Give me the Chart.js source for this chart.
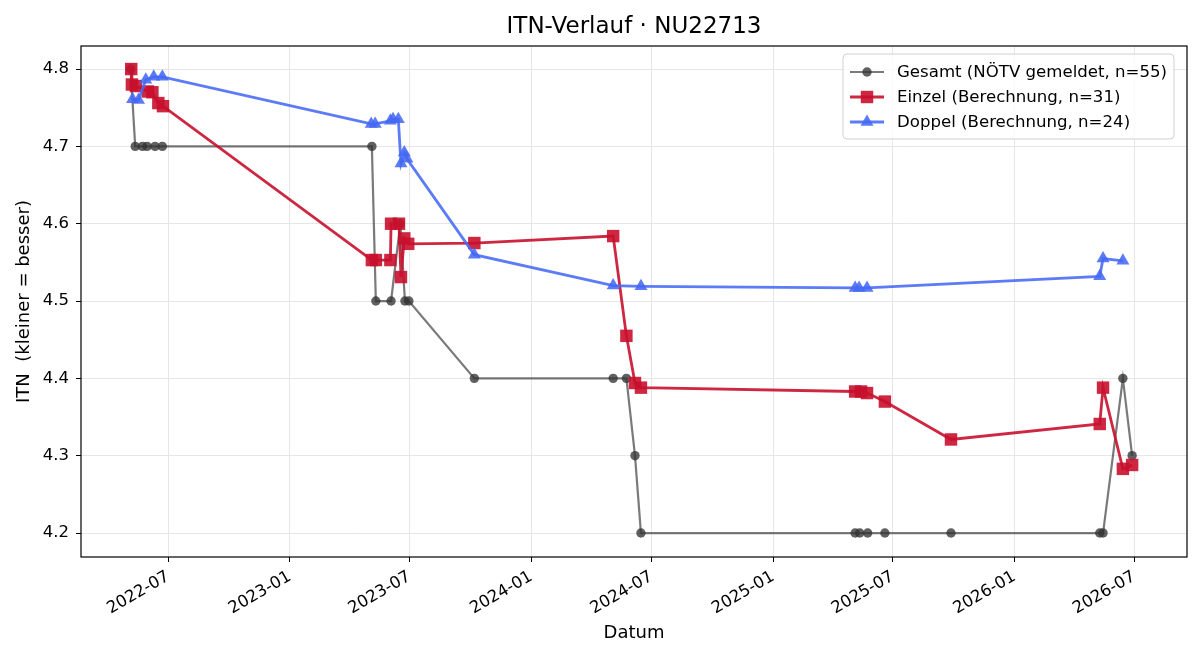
<!DOCTYPE html>
<html>
<head>
<meta charset="utf-8">
<script src="https://cdn.jsdelivr.net/npm/chart.js@4.4.1/dist/chart.umd.min.js"></script>
<style>
  html, body { margin: 0; padding: 0; background: #fff; }
</style>
</head>
<body>
<canvas id="chart" width="1200" height="660"></canvas>
<script>
// values
const gesamtDates = ['2022-05-05', '2022-05-12', '2022-05-23', '2022-05-30', '2022-06-11', '2022-06-22',
    '2023-05-05', '2023-05-11', '2023-06-03', '2023-06-17', '2023-06-24', '2023-06-30', '2023-10-07',
    '2024-05-04', '2024-05-24', '2024-06-06', '2024-06-15', '2025-05-05', '2025-05-12', '2025-05-24',
    '2025-06-19', '2025-09-27', '2026-05-10', '2026-05-15', '2026-06-14', '2026-06-28'];
const gesamtItn = [4.8, 4.7, 4.7, 4.7, 4.7, 4.7,
    4.7, 4.5, 4.5, 4.6, 4.5, 4.5, 4.4,
    4.4, 4.4, 4.3, 4.2, 4.2, 4.2, 4.2,
    4.2, 4.2, 4.2, 4.2, 4.4, 4.3];

const einzelDates = ['2022-05-06', '2022-05-07', '2022-05-13', '2022-05-31', '2022-06-07', '2022-06-16', '2022-06-23',
    '2023-05-05', '2023-05-11', '2023-06-02', '2023-06-03', '2023-06-15', '2023-06-18', '2023-06-23', '2023-06-29',
    '2023-10-07', '2024-05-04', '2024-05-24', '2024-06-06', '2024-06-15', '2025-05-05', '2025-05-14',
    '2025-05-23', '2025-06-19', '2025-09-27', '2026-05-10', '2026-05-15', '2026-06-14', '2026-06-28'];
const einzelItn = [4.800, 4.780, 4.778, 4.771, 4.770, 4.756, 4.752,
    4.553, 4.553, 4.553, 4.600, 4.600, 4.531, 4.581, 4.574,
    4.575, 4.584, 4.455, 4.394, 4.388, 4.383, 4.383,
    4.381, 4.370, 4.321, 4.341, 4.388, 4.283, 4.288];

const doppelDates = ['2022-05-08', '2022-05-17', '2022-05-28', '2022-06-09', '2022-06-22',
    '2023-05-04', '2023-05-10', '2023-06-02', '2023-06-06', '2023-06-14', '2023-06-18', '2023-06-23', '2023-06-27',
    '2023-10-07', '2024-05-04', '2024-06-15', '2025-05-05', '2025-05-11', '2025-05-23',
    '2026-05-10', '2026-05-15', '2026-06-14'];
const doppelItn = [4.761, 4.760, 4.786, 4.790, 4.790,
    4.729, 4.729, 4.733, 4.735, 4.735, 4.678, 4.692, 4.684,
    4.560, 4.520, 4.519, 4.517, 4.517, 4.517,
    4.532, 4.555, 4.552];

const xTickLabels = ['2022-07', '2023-01', '2023-07', '2024-01', '2024-07', '2025-01', '2025-07', '2026-01', '2026-07'];
const yTickValues = [4.2, 4.3, 4.4, 4.5, 4.6, 4.7, 4.8];

const seriesLabels = ['Gesamt (NÖTV gemeldet, n=55)', 'Einzel (Berechnung, n=31)', 'Doppel (Berechnung, n=24)'];

const toMs = s => Date.parse(s + 'T00:00:00Z');
const toPoints = (dates, vals) => dates.map((d, i) => ({ x: toMs(d), y: vals[i] }));

const FONT = "'DejaVu Sans', sans-serif";
Chart.defaults.font.family = FONT;
Chart.defaults.color = '#000';

// Colors
const grayLine = 'rgba(51, 51, 51, 0.65)';
const grayPoint = 'rgba(51, 51, 51, 0.78)';
const redLine = 'rgba(200, 16, 46, 0.9)';
const blueLine = 'rgba(70, 105, 245, 0.88)';

// small marker painter for the legend
function paintMarker(ctx, style, x, y, r, color) {
    ctx.fillStyle = color;
    ctx.beginPath();
    if (style === 'circle') {
        ctx.arc(x, y, r, 0, Math.PI * 2);
    } else if (style === 'rect') {
        const s = r * Math.SQRT1_2;
        ctx.rect(x - s, y - s, 2 * s, 2 * s);
    } else if (style === 'triangle') {
        ctx.moveTo(x, y - r);
        ctx.lineTo(x + r * Math.sin(Math.PI / 3), y + r / 2);
        ctx.lineTo(x - r * Math.sin(Math.PI / 3), y + r / 2);
        ctx.closePath();
    }
    ctx.fill();
}

// title centred over the axes like matplotlib, box around plot, legend in upper right
const framePlugin = {
    id: 'frame',
    afterLayout(chart) {
        const a = chart.chartArea;
        if (chart.titleBlock) {
            chart.titleBlock.left = a.left;
            chart.titleBlock.right = a.right;
            chart.titleBlock.width = a.right - a.left;
        }
    },
    afterDraw(chart) {
        const ctx = chart.ctx;
        const a = chart.chartArea;
        ctx.save();
        ctx.strokeStyle = '#000';
        ctx.lineWidth = 1.2;
        ctx.strokeRect(a.left, a.top, a.right - a.left, a.bottom - a.top);

        // legend
        const bx = 843, by = 54, bw = 331, bh = 85, rad = 4;
        ctx.beginPath();
        ctx.moveTo(bx + rad, by);
        ctx.arcTo(bx + bw, by, bx + bw, by + bh, rad);
        ctx.arcTo(bx + bw, by + bh, bx, by + bh, rad);
        ctx.arcTo(bx, by + bh, bx, by, rad);
        ctx.arcTo(bx, by, bx + bw, by, rad);
        ctx.closePath();
        ctx.fillStyle = 'rgba(255,255,255,0.8)';
        ctx.fill();
        ctx.strokeStyle = '#d0d0d0';
        ctx.lineWidth = 1;
        ctx.stroke();

        const rows = [72, 97, 122];
        chart.data.datasets.forEach((ds, i) => {
            const y = rows[i];
            ctx.strokeStyle = ds.borderColor;
            ctx.lineWidth = ds.borderWidth;
            ctx.beginPath();
            ctx.moveTo(850, y);
            ctx.lineTo(884, y);
            ctx.stroke();
            paintMarker(ctx, ds.pointStyle, 867, y, ds.pointRadius, ds.pointBackgroundColor);
            ctx.fillStyle = '#000';
            ctx.font = '16.6px ' + FONT;
            ctx.textBaseline = 'middle';
            ctx.textAlign = 'left';
            ctx.fillText(ds.label, 897, y + 1);
        });
        ctx.restore();
    }
};

new Chart(document.getElementById('chart'), {
    type: 'line',
    data: {
        datasets: [{
            label: seriesLabels[0],
            data: toPoints(gesamtDates, gesamtItn),
            borderColor: grayLine,
            borderWidth: 2.2,
            pointStyle: 'circle',
            pointRadius: 4.7,
            pointBackgroundColor: grayPoint,
            pointBorderColor: grayPoint,
            pointBorderWidth: 0,
            order: 3
        }, {
            label: seriesLabels[1],
            data: toPoints(einzelDates, einzelItn),
            borderColor: redLine,
            borderWidth: 2.8,
            pointStyle: 'rect',
            pointRadius: 8.8,
            pointBackgroundColor: redLine,
            pointBorderColor: redLine,
            pointBorderWidth: 0,
            order: 2
        }, {
            label: seriesLabels[2],
            data: toPoints(doppelDates, doppelItn),
            borderColor: blueLine,
            borderWidth: 2.8,
            pointStyle: 'triangle',
            pointRadius: 7.5,
            pointBackgroundColor: blueLine,
            pointBorderColor: blueLine,
            pointBorderWidth: 0,
            order: 1
        }]
    },
    options: {
        responsive: false,
        animation: false,
        devicePixelRatio: 1,
        layout: { padding: { left: 0, right: 13, top: 0, bottom: 0 } },
        plugins: {
            legend: { display: false },
            tooltip: { enabled: false },
            title: {
                display: true,
                text: 'ITN-Verlauf · NU22713',
                font: { size: 23, weight: 'normal' },
                color: '#000',
                padding: { top: 13, bottom: 5.4 }
            }
        },
        scales: {
            x: {
                type: 'linear',
                min: toMs('2022-02-19'),
                max: toMs('2026-09-19'),
                afterBuildTicks: scale => {
                    scale.ticks = xTickLabels.map(l => ({ value: toMs(l + '-01') }));
                },
                afterFit: scale => { scale.height = 103; },
                ticks: {
                    autoSkip: false,
                    minRotation: 30,
                    maxRotation: 30,
                    padding: 5,
                    font: { size: 16.5 },
                    callback: v => {
                        const d = new Date(v);
                        return d.getUTCFullYear() + '-' + String(d.getUTCMonth() + 1).padStart(2, '0');
                    }
                },
                grid: { color: '#e6e6e6', lineWidth: 1, tickColor: '#000', tickLength: 5 },
                border: { display: false },
                title: { display: true, text: 'Datum', font: { size: 18 }, padding: { top: 0, bottom: 16 } }
            },
            y: {
                min: 4.169,
                max: 4.8298,
                afterBuildTicks: scale => {
                    scale.ticks = yTickValues.map(v => ({ value: v }));
                },
                afterFit: scale => { scale.width = 81; },
                ticks: {
                    padding: 7,
                    font: { size: 16.5 },
                    callback: v => v.toFixed(1)
                },
                grid: { color: '#e6e6e6', lineWidth: 1, tickColor: '#000', tickLength: 5 },
                border: { display: false },
                title: { display: true, text: 'ITN  (kleiner = besser)', font: { size: 18 }, padding: { top: 14, bottom: 0 } }
            }
        }
    },
    plugins: [framePlugin]
});
</script>
</body>
</html>
